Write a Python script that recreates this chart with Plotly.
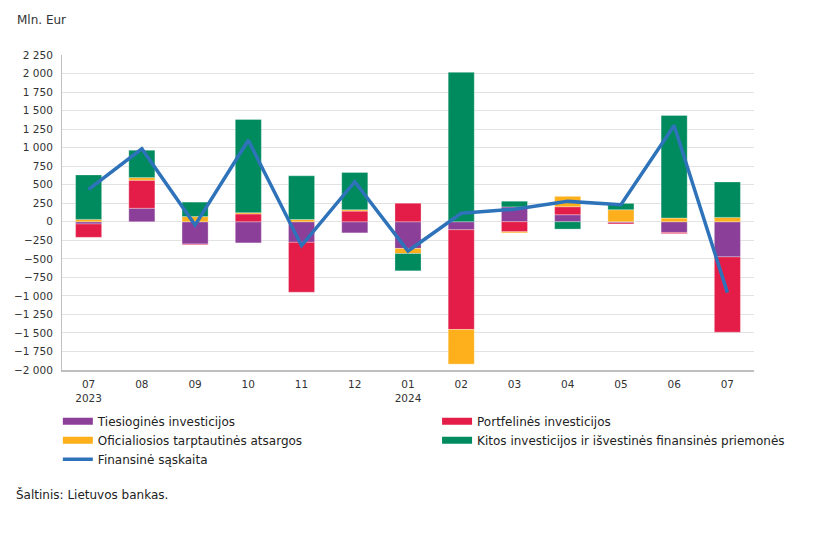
import plotly.graph_objects as go

months = ["07<br>2023", "08", "09", "10", "11", "12", "01<br>2024", "02", "03", "04", "05", "06", "07"]
tiesiogines = [-30, 182, -300, -285, -277, -150, -360, -108, 200, 95, -15, -144, -474]
portfelines = [-180, 378, -10, 105, -673, 144, 250, -1345, -135, 108, -15, -16, -1015]
oficialiosios = [32, 36, 70, 18, 30, 18, -68, -468, -15, 140, 162, 50, 59]
kitos = [600, 369, 195, 1257, 590, 504, -234, 2016, 77, -99, 86, 1384, 478]
finansine = [437, 985, -45, 1100, -323, 540, -395, 115, 170, 275, 230, 1299, -956]

y_ticks = list(range(-2000, 2251, 250))

font = "DejaVu Sans"
fig = go.Figure()
bar_specs = [
    ("Tiesioginės investicijos", tiesiogines, "#8C3F98", "legend"),
    ("Portfelinės investicijos", portfelines, "#E31D48", "legend2"),
    ("Oficialiosios tarptautinės atsargos", oficialiosios, "#FDB01B", "legend"),
    ("Kitos investicijos ir išvestinės finansinės priemonės", kitos, "#008B5F", "legend2"),
]
for name, vals, col, lg in bar_specs:
    fig.add_trace(go.Bar(x=months, y=vals, name=name, legendgroup=name, showlegend=False,
                         marker=dict(color=col, line=dict(color="rgba(255,255,255,0.6)", width=0.5))))
fig.add_trace(go.Scatter(x=months, y=finansine, name="Finansinė sąskaita", mode="lines",
                         legend="legend", legendrank=3,
                         line=dict(color="#2E73BA", width=3.5)))
# legend swatches (legend-only entries linked to the bar traces)
for i, (name, vals, col, lg) in enumerate(bar_specs):
    fig.add_trace(go.Scatter(x=[None], y=[None], name=name, legendgroup=name, mode="lines",
                             legend=lg, legendrank=i // 2 + 1, hoverinfo="skip",
                             line=dict(color=col, width=7)))

leg_font = dict(family=font, size=12, color="#222222")
fig.update_layout(
    width=823, height=530,
    barmode="relative", bargap=0.51,
    paper_bgcolor="white", plot_bgcolor="white",
    margin=dict(l=54, r=77, t=47, b=168, autoexpand=False),
    separators=". ",
    font=dict(family=font, size=10, color="#333333"),
    showlegend=True,
    legend=dict(orientation="v", x=-0.006, y=-0.117, xanchor="left", yanchor="top",
                font=leg_font, itemwidth=30, tracegroupgap=0, traceorder="normal",
                bgcolor="rgba(0,0,0,0)"),
    legend2=dict(orientation="v", x=0.542, y=-0.117, xanchor="left", yanchor="top",
                 font=leg_font, itemwidth=30, tracegroupgap=0, traceorder="normal",
                 bgcolor="rgba(0,0,0,0)"),
    annotations=[
        dict(text="Mln. Eur", xref="paper", yref="paper", x=-0.068, y=1.111, xanchor="left", yanchor="middle",
             showarrow=False, font=dict(family=font, size=12, color="#333333")),
        dict(text="Šaltinis: Lietuvos bankas.", xref="paper", yref="paper", x=-0.069, y=-0.394,
             xanchor="left", yanchor="middle", showarrow=False,
             font=dict(family=font, size=12, color="#222222")),
    ],
)
fig.update_yaxes(range=[-2000, 2250], tickvals=y_ticks, tickformat=",d", showgrid=True,
                 gridcolor="#e2e2e2", gridwidth=1, zeroline=False, showline=True,
                 linecolor="#bfbfbf", linewidth=1, ticks="", ticklabelstandoff=6, automargin=False,
                 tickfont=dict(size=10.5, color="#333333"))
fig.update_xaxes(showline=True, linecolor="#bfbfbf", linewidth=1.5, ticks="", showgrid=False,
                 automargin=False,
                 ticklabelstandoff=4, tickfont=dict(size=10.5, color="#333333"), tickangle=0)

fig.write_html("out.html")
